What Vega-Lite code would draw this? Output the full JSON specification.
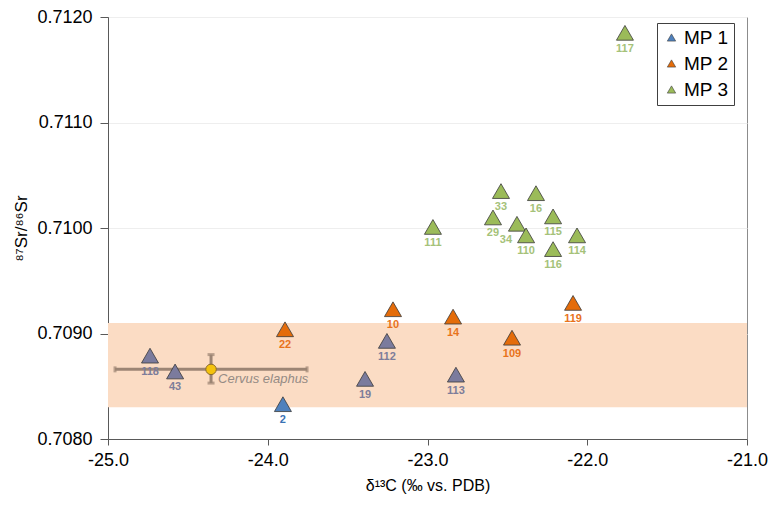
{
  "$schema": "https://vega.github.io/schema/vega-lite/v6.json",
  "width": 639,
  "height": 422,
  "autosize": {"type": "none"},
  "padding": {"left": 108, "top": 17, "right": 30, "bottom": 68},
  "background": "white",
  "config": {
    "font": "Liberation Sans",
    "view": {"stroke": "#8c8c8c", "strokeWidth": 1}
  },
  "datasets": {
    "samples": [
      {"id": "2", "group": "MP 1", "d13C": -23.905, "sr": 0.70833},
      {"id": "118", "group": "other", "d13C": -24.737, "sr": 0.70879},
      {"id": "43", "group": "other", "d13C": -24.58, "sr": 0.70864},
      {"id": "112", "group": "other", "d13C": -23.254, "sr": 0.70893},
      {"id": "19", "group": "other", "d13C": -23.391, "sr": 0.70857},
      {"id": "113", "group": "other", "d13C": -22.822, "sr": 0.70861},
      {"id": "22", "group": "MP 2", "d13C": -23.892, "sr": 0.70904},
      {"id": "10", "group": "MP 2", "d13C": -23.216, "sr": 0.70923},
      {"id": "14", "group": "MP 2", "d13C": -22.84, "sr": 0.70916},
      {"id": "109", "group": "MP 2", "d13C": -22.471, "sr": 0.70896},
      {"id": "119", "group": "MP 2", "d13C": -22.089, "sr": 0.70929},
      {"id": "33", "group": "MP 3", "d13C": -22.54, "sr": 0.71035},
      {"id": "16", "group": "MP 3", "d13C": -22.321, "sr": 0.71033},
      {"id": "29", "group": "MP 3", "d13C": -22.59, "sr": 0.7101},
      {"id": "34", "group": "MP 3", "d13C": -22.44, "sr": 0.71004},
      {"id": "110", "group": "MP 3", "d13C": -22.383, "sr": 0.70993},
      {"id": "115", "group": "MP 3", "d13C": -22.214, "sr": 0.71011},
      {"id": "114", "group": "MP 3", "d13C": -22.064, "sr": 0.70993},
      {"id": "116", "group": "MP 3", "d13C": -22.214, "sr": 0.7098},
      {"id": "111", "group": "MP 3", "d13C": -22.966, "sr": 0.71001},
      {"id": "117", "group": "MP 3", "d13C": -21.764, "sr": 0.71185}
    ],
    "band": [{"x1": -25, "x2": -21, "y1": 0.7083, "y2": 0.7091}],
    "cervus": [
      {"name": "Cervus elaphus", "d13C": -24.355, "sr": 0.70866, "xlo": -24.956, "xhi": -23.754, "ylo": 0.70853, "yhi": 0.7088}
    ]
  },
  "layer": [
    {
      "data": {"name": "band"},
      "mark": {"type": "rect", "fill": "#fbdcc4"},
      "encoding": {
        "x": {
          "field": "x1", "type": "quantitative",
          "scale": {"domain": [-25, -21], "nice": false, "zero": false},
          "axis": {
            "title": "δ¹³C (‰ vs. PDB)",
            "values": [-25, -24, -23, -22, -21],
            "labelExpr": "replace(format(datum.value, '.1f'), '−', '-')",
            "labelFlush": false,
            "labelFontSize": 18, "labelColor": "#000000", "labelPadding": 6,
            "tickSize": 6, "tickColor": "#595959", "domainColor": "#595959",
            "grid": false,
            "titleFontSize": 16, "titleFontWeight": "normal", "titleColor": "#000000", "titlePadding": 8
          }
        },
        "x2": {"field": "x2"},
        "y": {
          "field": "y1", "type": "quantitative",
          "scale": {"domain": [0.708, 0.712], "nice": false, "zero": false},
          "axis": {
            "title": "⁸⁷Sr/⁸⁶Sr",
            "values": [0.708, 0.709, 0.71, 0.711, 0.712],
            "format": ".4f",
            "labelFlush": false,
            "labelFontSize": 18, "labelColor": "#000000", "labelPadding": 8,
            "tickSize": 8, "tickColor": "#595959", "domainColor": "#595959",
            "grid": true, "gridColor": "#eeeeee",
            "titleFontSize": 17, "titleFontWeight": "normal", "titleColor": "#000000", "titlePadding": 6
          }
        },
        "y2": {"field": "y2"}
      }
    },
    {
      "data": {"name": "cervus"},
      "mark": {"type": "rule", "color": "#9c8574", "strokeWidth": 3},
      "encoding": {
        "x": {"field": "xlo", "type": "quantitative"},
        "x2": {"field": "xhi"},
        "y": {"field": "sr", "type": "quantitative"}
      }
    },
    {
      "data": {"name": "cervus"},
      "mark": {"type": "rule", "color": "#9c8574", "strokeWidth": 3},
      "encoding": {
        "x": {"field": "d13C", "type": "quantitative"},
        "y": {"field": "ylo", "type": "quantitative"},
        "y2": {"field": "yhi"}
      }
    },
    {
      "data": {"name": "cervus"},
      "mark": {"type": "tick", "color": "#9c8574", "orient": "vertical", "size": 6, "thickness": 3},
      "encoding": {
        "x": {"field": "xlo", "type": "quantitative"},
        "y": {"field": "sr", "type": "quantitative"}
      }
    },
    {
      "data": {"name": "cervus"},
      "mark": {"type": "tick", "color": "#9c8574", "orient": "vertical", "size": 6, "thickness": 3},
      "encoding": {
        "x": {"field": "xhi", "type": "quantitative"},
        "y": {"field": "sr", "type": "quantitative"}
      }
    },
    {
      "data": {"name": "cervus"},
      "mark": {"type": "tick", "color": "#9c8574", "orient": "horizontal", "size": 7, "thickness": 3},
      "encoding": {
        "x": {"field": "d13C", "type": "quantitative"},
        "y": {"field": "ylo", "type": "quantitative"}
      }
    },
    {
      "data": {"name": "cervus"},
      "mark": {"type": "tick", "color": "#9c8574", "orient": "horizontal", "size": 7, "thickness": 3},
      "encoding": {
        "x": {"field": "d13C", "type": "quantitative"},
        "y": {"field": "yhi", "type": "quantitative"}
      }
    },
    {
      "data": {"name": "cervus"},
      "mark": {"type": "point", "shape": "circle", "filled": true, "fill": "#f4c20d", "stroke": "#8a6a2a", "strokeWidth": 1, "size": 110, "opacity": 1},
      "encoding": {
        "x": {"field": "d13C", "type": "quantitative"},
        "y": {"field": "sr", "type": "quantitative"}
      }
    },
    {
      "data": {"name": "cervus"},
      "mark": {"type": "text", "align": "left", "baseline": "middle", "dx": 7, "dy": 10, "fontSize": 13, "fontStyle": "italic", "color": "#958b84"},
      "encoding": {
        "x": {"field": "d13C", "type": "quantitative"},
        "y": {"field": "sr", "type": "quantitative"},
        "text": {"field": "name"}
      }
    },
    {
      "data": {"name": "samples"},
      "mark": {"type": "point", "shape": "triangle-up", "filled": true, "size": 290, "stroke": "#3a3a3a", "strokeWidth": 0.8, "opacity": 1},
      "encoding": {
        "x": {"field": "d13C", "type": "quantitative"},
        "y": {"field": "sr", "type": "quantitative"},
        "fill": {
          "field": "group", "type": "nominal",
          "scale": {"domain": ["MP 1", "MP 2", "MP 3", "other"], "range": ["#4f81bd", "#e46c0a", "#9bbb59", "#7b7b9d"]},
          "legend": {
            "values": ["MP 1", "MP 2", "MP 3"],
            "title": null,
            "orient": "none",
            "legendX": 549,
            "legendY": 6,
            "padding": 5,
            "rowPadding": 6,
            "strokeColor": "#404040",
            "fillColor": "#ffffff",
            "labelFontSize": 19,
            "labelColor": "#000000",
            "labelOffset": 3,
            "symbolType": "triangle-up",
            "symbolSize": 70,
            "symbolStrokeColor": "#3a3a3a",
            "symbolStrokeWidth": 0.6
          }
        }
      }
    },
    {
      "data": {"name": "samples"},
      "transform": [{"filter": "datum.id !== '34'"}],
      "mark": {"type": "text", "baseline": "middle", "align": "center", "dy": 16, "fontSize": 11, "fontWeight": "bold"},
      "encoding": {
        "x": {"field": "d13C", "type": "quantitative"},
        "y": {"field": "sr", "type": "quantitative"},
        "text": {"field": "id"},
        "color": {
          "field": "group", "type": "nominal",
          "scale": {"domain": ["MP 1", "MP 2", "MP 3", "other"], "range": ["#3a72b4", "#e8731c", "#a5c279", "#7d7d9a"]},
          "legend": null
        }
      }
    },
    {
      "data": {"name": "samples"},
      "transform": [{"filter": "datum.id === '34'"}],
      "mark": {"type": "text", "baseline": "middle", "align": "center", "dx": -11, "dy": 16, "fontSize": 11, "fontWeight": "bold"},
      "encoding": {
        "x": {"field": "d13C", "type": "quantitative"},
        "y": {"field": "sr", "type": "quantitative"},
        "text": {"field": "id"},
        "color": {
          "field": "group", "type": "nominal",
          "legend": null
        }
      }
    }
  ]
}
